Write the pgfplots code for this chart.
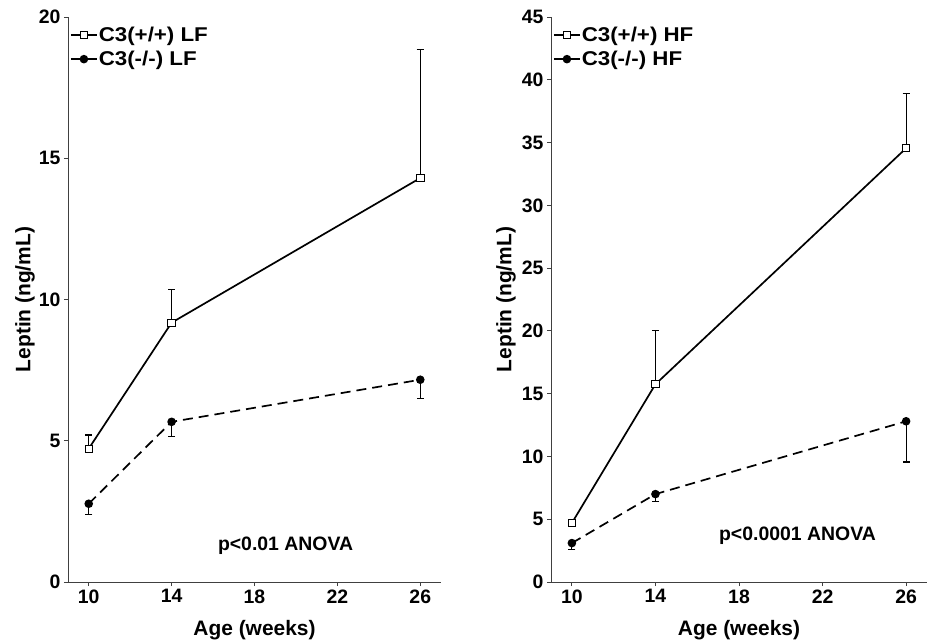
\documentclass[border=0pt]{standalone}
\usepackage{fontspec}
\setmainfont{Liberation Sans}
\newfontfamily\legfont{Liberation Sans}[FakeStretch=1.12]
\usepackage{pgfplots}
\pgfplotsset{compat=1.18}
\newcommand{\tickf}{\fontsize{19.5}{22}\selectfont\bfseries}
\newcommand{\labf}{\fontsize{21}{24}\selectfont\bfseries}
\newcommand{\legf}{\legfont\fontsize{20}{23}\selectfont\bfseries}
\newcommand{\annf}{\fontsize{19.5}{22}\selectfont\bfseries}
\pgfplotsset{
  myax/.style={
    scale only axis, height=565bp,
    xmin=9, xmax=27, xtick={10,14,18,22,26},
    axis x line*=bottom, axis y line*=left,
    axis line style={-, black!75, line width=0.8bp},
    tick style={black!75, line width=0.8bp},
    tick align=outside, major tick length=4bp,
    /pgf/number format/assume math mode=true,
    ticklabel style={font=\tickf},
    label style={font=\labf},
    xlabel={Age (weeks)}, ylabel={Leptin (ng/mL)},
    xlabel style={at={(axis description cs:0.5,-0.085)}, anchor=center},
    clip=false,
    legend cell align=left,
    legend style={draw=none, fill=none, inner sep=0pt, row sep=6bp,
      nodes={inner sep=1bp}},
    legend image code/.code={\draw[#1, mark repeat=2, mark phase=2] plot coordinates {(0bp,0bp)(13bp,0bp)(26bp,0bp)};},
  },
  wt/.style={black, solid, line width=1.7bp, mark=square*, mark options={solid, fill=white, line width=0.9bp}, mark size=3.7bp,
    error bars/y dir=plus, error bars/y explicit,
    error bars/error bar style={line width=1.2bp, black, solid},
    error bars/error mark options={rotate=90, mark size=3.6bp, line width=1.2bp, black, solid}},
  ko/.style={black, dash pattern=on 10bp off 6bp, line width=1.7bp, mark=*, mark options={solid, fill=black}, mark size=3.4bp,
    legend image post style={solid},
    error bars/y dir=minus, error bars/y explicit,
    error bars/error bar style={line width=1.2bp, black, solid},
    error bars/error mark options={rotate=90, mark size=3.6bp, line width=1.2bp, black, solid}},
}
\begin{document}
\begin{tikzpicture}
\path[use as bounding box] (0bp,0bp) rectangle (935bp,642bp);
\begin{axis}[myax, at={(68bp,60bp)}, anchor=south west, width=373bp,
  ymin=0, ymax=20, ytick={0,5,10,15,20},
  ylabel style={at={(axis description cs:-0.115,0.5)}, anchor=center},
  legend style={at={(axis description cs:0.005,0.984)}, anchor=north west}]
\addplot[wt] coordinates {(10,4.72) +- (0,0.48) (14,9.18) +- (0,1.17) (26,14.3) +- (0,4.55)};
\addlegendentry{\legf C3(+/+) LF}
\addplot[ko] coordinates {(10,2.77) +- (0,0.37) (14,5.67) +- (0,0.52) (26,7.16) +- (0,0.67)};
\addlegendentry{\legf C3(-/-) LF}
\node[font=\annf] at (axis cs:19.5,1.27) {p<0.01 ANOVA};
\end{axis}
\begin{axis}[myax, at={(551bp,60bp)}, anchor=south west, width=376bp,
  ymin=0, ymax=45, ytick={0,5,...,45},
  ylabel style={at={(axis description cs:-0.12,0.5)}, anchor=center},
  legend style={at={(axis description cs:0.005,0.984)}, anchor=north west}]
\addplot[wt] coordinates {(10,4.7) +- (0,0.3) (14,15.75) +- (0,4.25) (26,34.55) +- (0,4.35)};
\addlegendentry{\legf C3(+/+) HF}
\addplot[ko] coordinates {(10,3.1) +- (0,0.5) (14,7.0) +- (0,0.6) (26,12.8) +- (0,3.25)};
\addlegendentry{\legf C3(-/-) HF}
\node[font=\annf] at (axis cs:20.8,3.67) {p<0.0001 ANOVA};
\end{axis}
\end{tikzpicture}
\end{document}
